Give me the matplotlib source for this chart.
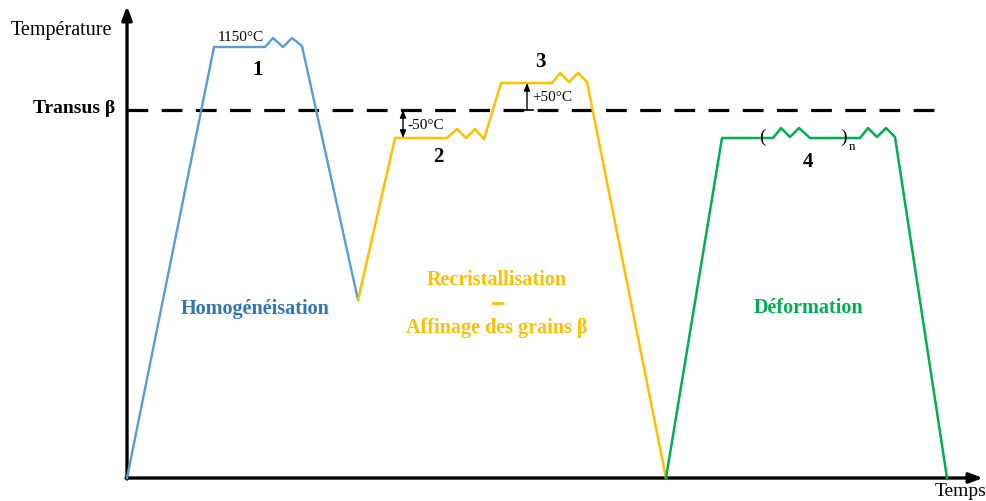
import matplotlib
matplotlib.use("Agg")
from matplotlib import pyplot as plt

# schematic thermal cycle: time (arbitrary) vs temperature (arbitrary)
TRANSUS = 368

T_HOMOG = [0, 87, 138, 146, 156, 165, 175, 231]
Y_HOMOG = [0, 431, 431, 440, 431, 440, 432, 178]

T_RECRIS = [231, 268, 320, 330, 339, 348, 357, 374, 425, 433, 442, 451, 460, 539]
Y_RECRIS = [178, 340, 340, 349, 340, 349, 339, 395, 395, 405, 396, 405, 396, 0]

T_DEFORM = [539, 595, 646, 654, 663, 672, 683, 733, 741, 750, 759, 768, 820]
Y_DEFORM = [0, 340, 340, 350, 341, 350, 340, 340, 350, 341, 350, 341, 0]

BLUE = '#5B9BD5'
BLUE_TXT = '#2E75B6'
YELLOW = '#FFC000'
GREEN = '#00B050'

plt.rcParams['font.family'] = ['Liberation Serif', 'DejaVu Serif']

fig = plt.figure(figsize=(9.86, 5.01), dpi=100)
ax = fig.add_axes([0, 0, 1, 1])
ax.set_xlim(-127, 859)
ax.set_ylim(-23, 478)
ax.axis('off')

# axes with arrows
ax.annotate('', xy=(856, 0), xytext=(-1, 0),
            arrowprops=dict(arrowstyle='-|>,head_length=0.8,head_width=0.3', lw=2.4, color='black',
                            shrinkA=0, shrinkB=0))
ax.annotate('', xy=(0, 472), xytext=(0, -1),
            arrowprops=dict(arrowstyle='-|>,head_length=0.8,head_width=0.3', lw=2.4, color='black',
                            shrinkA=0, shrinkB=0))

# transus line
ax.plot([0, 818], [TRANSUS, TRANSUS], color='black', lw=2.3, dashes=(6.5, 4.2))

ax.plot(T_HOMOG, Y_HOMOG, color=BLUE, lw=1.7, zorder=3)
ax.plot(T_RECRIS, Y_RECRIS, color=YELLOW, lw=1.8, zorder=3)
ax.plot(T_DEFORM, Y_DEFORM, color=GREEN, lw=1.8, zorder=3)

# -50 / +50 arrows
ax.annotate('', xy=(276, 340), xytext=(276, TRANSUS),
            arrowprops=dict(arrowstyle='<|-|>,head_length=0.45,head_width=0.18', lw=1.0, color='black',
                            shrinkA=0, shrinkB=0))
ax.annotate('', xy=(400, 395), xytext=(400, TRANSUS),
            arrowprops=dict(arrowstyle='-|>,head_length=0.45,head_width=0.18', lw=1.0, color='black',
                            shrinkA=0, shrinkB=0))
ax.plot([394, 406], [TRANSUS, TRANSUS], color='black', lw=1.2)
ax.text(280, 353, '-50°C', fontsize=11, va='center', ha='left')
ax.text(405, 381, '+50°C', fontsize=11, va='center', ha='left')

# labels
ax.text(-15, 448, 'Température', fontsize=14.5, ha='right', va='center')
ax.text(-12, 370, 'Transus β', fontsize=14, fontweight='bold', ha='right', va='center')
ax.text(808, -14, 'Temps', fontsize=14, ha='left', va='center')
ax.text(91, 441, '1150°C', fontsize=11, ha='left', va='center')

for lab, x, y in [('1', 131, 408), ('2', 311, 321), ('3', 413, 416), ('4', 681, 316)]:
    ax.text(x, y, lab, fontsize=15, fontweight='bold', ha='center', va='center')

ax.text(635, 341, '(', fontsize=14, ha='center', va='center')
ax.text(717, 341, ')', fontsize=14, ha='center', va='center')
ax.text(722, 331, 'n', fontsize=9.5, ha='left', va='center')

ax.text(128, 169, 'Homogénéisation', fontsize=14.5, fontweight='bold', color=BLUE_TXT,
        ha='center', va='center')
ax.text(370, 198, 'Recristallisation', fontsize=14.5, fontweight='bold', color=YELLOW,
        ha='center', va='center')
ax.plot([366, 375], [175, 175], color=YELLOW, lw=2.0)
ax.text(370, 150, 'Affinage des grains β', fontsize=14.5, fontweight='bold', color=YELLOW,
        ha='center', va='center')
ax.text(681, 170, 'Déformation', fontsize=14.5, fontweight='bold', color=GREEN,
        ha='center', va='center')

fig.savefig('out.png', dpi=100)
